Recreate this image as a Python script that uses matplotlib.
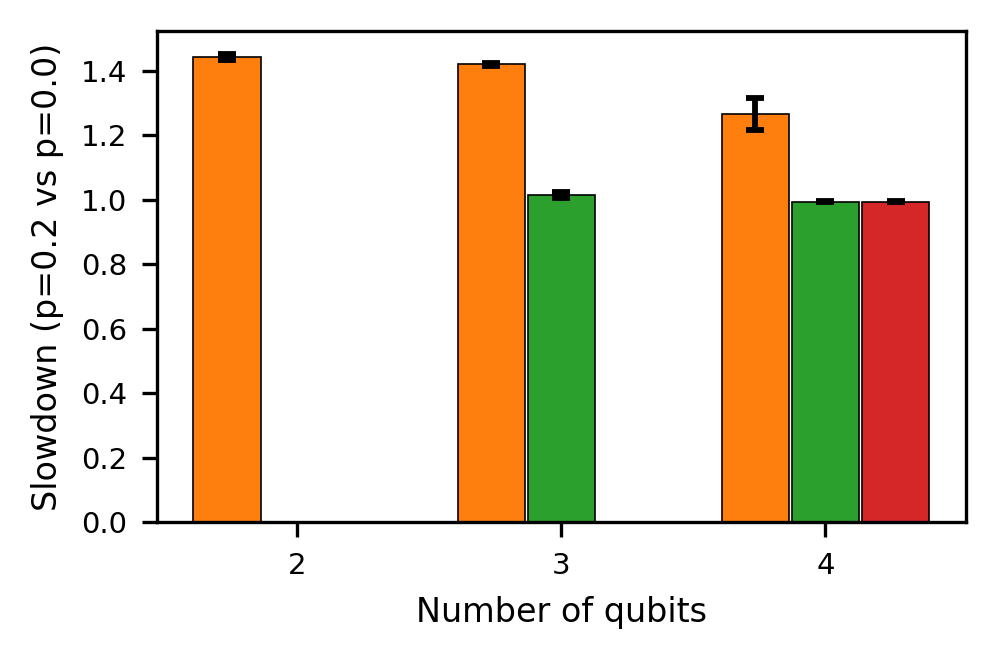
import numpy as np
import matplotlib.pyplot as plt

qubits = [2, 3, 4]
# slowdown per series; None where the series has no bar
series_vals = [
    [1.441, 1.419, 1.266],
    [None, 1.015, 0.994],
    [None, None, 0.994],
]
series_err = [
    [0.009, 0.005, 0.05],
    [None, 0.009, 0.002],
    [None, None, 0.002],
]
colors = ["C1", "C2", "C3"]

fig, ax = plt.subplots(figsize=(3.323, 2.207), dpi=300)

width = 0.255
step = 0.265
x = np.arange(len(qubits))
for i, (vals, errs) in enumerate(zip(series_vals, series_err)):
    idx = [j for j, v in enumerate(vals) if v is not None]
    xs = x[idx] + (i - 1) * step
    ys = [vals[j] for j in idx]
    es = [errs[j] for j in idx]
    ax.bar(xs, ys, width, yerr=es, color=colors[i], edgecolor="black",
           linewidth=0.4, capsize=2.2, error_kw=dict(elinewidth=1.4, capthick=1.4))

ax.set_xticks(x)
ax.set_xticklabels([str(q) for q in qubits], fontsize=7)
ax.tick_params(axis="y", labelsize=7)
ax.set_xlabel("Number of qubits", fontsize=8)
ax.set_ylabel("Slowdown (p=0.2 vs p=0.0)", fontsize=8)

fig.subplots_adjust(left=0.157, right=0.969, top=0.953, bottom=0.211)
fig.savefig("out.png", dpi=300)
